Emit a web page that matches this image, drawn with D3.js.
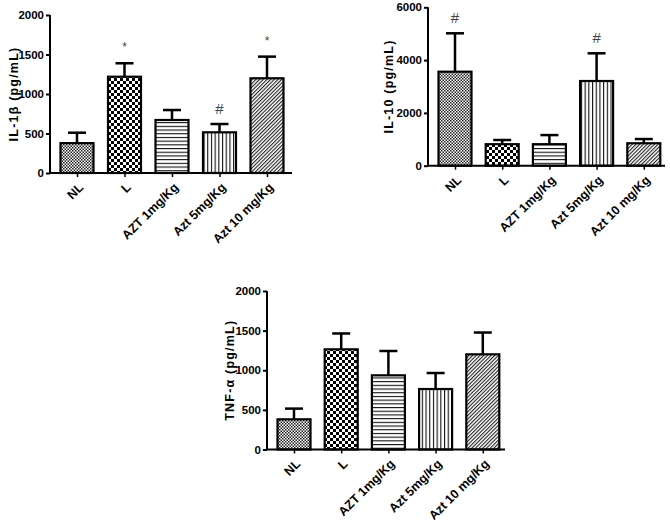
<!DOCTYPE html>
<html><head><meta charset="utf-8">
<script src="https://cdn.jsdelivr.net/npm/d3@7"></script>
<style>body{margin:0;background:#fff}svg{display:block}</style>
</head><body>
<svg id="c" width="670" height="523"></svg>
<script>
const categories = ["NL","L","AZT 1mg/Kg","Azt 5mg/Kg","Azt 10 mg/Kg"];
const il1bMean = [378, 1219, 671, 515, 1199];
const il1bErr  = [132, 170, 126, 105, 274];
const il1bMarks = ["", "*", "", "#", "*"];
const il10Mean = [3561, 815, 815, 3208, 850];
const il10Err  = [1454, 158, 345, 1049, 160];
const il10Marks = ["#", "", "", "#", ""];
const tnfMean = [381, 1264, 936, 763, 1201];
const tnfErr  = [135, 200, 307, 202, 275];
const tnfMarks = ["", "", "", "", ""];
const il1bTicks = [0,500,1000,1500,2000];
const il10Ticks = [0,2000,4000,6000];
const tnfTicks = [0,500,1000,1500,2000];
const patternIds = ["pFine","pCheck","pHoriz","pVert","pDiag"];

const svg = d3.select("#c");
const defs = svg.append("defs");
let p = defs.append("pattern").attr("id","pFine").attr("patternUnits","userSpaceOnUse").attr("width",3).attr("height",3);
p.append("rect").attr("width",3).attr("height",3).attr("fill","#fff");
p.append("rect").attr("width",1.5).attr("height",1.5).attr("fill","#222");
p.append("rect").attr("x",1.5).attr("y",1.5).attr("width",1.5).attr("height",1.5).attr("fill","#222");
p = defs.append("pattern").attr("id","pCheck").attr("patternUnits","userSpaceOnUse").attr("width",6).attr("height",6);
p.append("rect").attr("width",6).attr("height",6).attr("fill","#fff");
p.append("rect").attr("width",3).attr("height",3).attr("fill","#000");
p.append("rect").attr("x",3).attr("y",3).attr("width",3).attr("height",3).attr("fill","#000");
p = defs.append("pattern").attr("id","pHoriz").attr("patternUnits","userSpaceOnUse").attr("width",4).attr("height",3.7);
p.append("rect").attr("width",4).attr("height",3.7).attr("fill","#fff");
p.append("rect").attr("y",0).attr("width",4).attr("height",1.1).attr("fill","#111");
p = defs.append("pattern").attr("id","pVert").attr("patternUnits","userSpaceOnUse").attr("width",3.7).attr("height",4);
p.append("rect").attr("width",3.7).attr("height",4).attr("fill","#fff");
p.append("rect").attr("x",0).attr("width",1.1).attr("height",4).attr("fill","#111");
p = defs.append("pattern").attr("id","pDiag").attr("patternUnits","userSpaceOnUse").attr("width",2.6).attr("height",2.6).attr("patternTransform","rotate(45)");
p.append("rect").attr("width",2.6).attr("height",2.6).attr("fill","#fff");
p.append("rect").attr("x",0).attr("width",1.1).attr("height",2.6).attr("fill","#222");

const narrow = "'Liberation Sans Narrow','Arial Narrow','Liberation Sans',Arial,sans-serif";
const wide = "'Liberation Sans',Arial,sans-serif";

function panel(o){
  const g = svg.append("g");
  const y = d3.scaleLinear().domain([0,o.ymax]).range([o.yBot,o.yTop]);
  const x = d3.scalePoint().domain(categories).range([o.x0+27, o.x0+27+4*o.step]);
  const bw = 33;
  g.selectAll("rect.bar").data(o.mean).enter().append("rect")
    .attr("x",(d,i)=>x(categories[i])-bw/2).attr("width",bw)
    .attr("y",d=>y(d)).attr("height",d=>o.yBot-y(d))
    .attr("fill",(d,i)=>"url(#"+patternIds[i]+")")
    .attr("stroke","#000").attr("stroke-width",2.2);
  o.mean.forEach((m,i)=>{
    const cx = x(categories[i]);
    g.append("line").attr("x1",cx).attr("x2",cx).attr("y1",y(m)).attr("y2",y(m+o.err[i])).attr("stroke","#000").attr("stroke-width",2.5);
    g.append("line").attr("x1",cx-9).attr("x2",cx+9).attr("y1",y(m+o.err[i])).attr("y2",y(m+o.err[i])).attr("stroke","#000").attr("stroke-width",2.5);
    if(o.marks[i]){
      const isStar = o.marks[i]==="*";
      g.append("text").attr("x",cx).attr("y",y(m+o.err[i]) - (isStar?12:10))
        .attr("text-anchor","middle").attr("font-family",wide)
        .attr("font-size", isStar?12:15).attr("fill","#444").text(o.marks[i]);
    }
  });
  const ya = d3.axisLeft(y).tickValues(o.ticks).tickSize(4).tickPadding(2).tickFormat(d3.format("d"));
  const yg = g.append("g").attr("transform",`translate(${o.x0},0)`).call(ya);
  yg.select(".domain").attr("stroke-width",2).attr("d",`M0,${o.yTop}V${o.yBot}`);
  yg.selectAll(".tick line").attr("stroke-width",2);
  yg.selectAll(".tick text").attr("font-family",narrow).attr("font-weight","bold").attr("font-size",11.5).attr("fill","#000");
  const xa = d3.axisBottom(x).tickSize(4).tickFormat("");
  const xg = g.append("g").attr("transform",`translate(0,${o.yBot})`).call(xa);
  xg.select(".domain").attr("stroke-width",2).attr("d",`M${o.x0},0H${o.x1}`);
  xg.selectAll(".tick line").attr("stroke-width",1.5);
  categories.forEach((c,i)=>{
    const cx = x(c)+4, cy = o.yBot+12;
    g.append("text").attr("transform",`translate(${cx},${cy}) rotate(-45)`)
      .attr("text-anchor","end").attr("dy","0.35em")
      .attr("font-family",wide).attr("font-weight","bold").attr("font-size",12.5).text(c);
  });
  g.append("text").attr("transform",`translate(${o.labelX},${(o.yTop+o.yBot)/2}) rotate(-90)`)
    .attr("text-anchor","middle").attr("font-family",wide).attr("font-weight","bold")
    .attr("font-size",12.5).attr("letter-spacing",1.2).text(o.label);
}

panel({x0:50, x1:292, yTop:15, yBot:173, step:47.5, ymax:2000, ticks:il1bTicks, mean:il1bMean, err:il1bErr, marks:il1bMarks, label:"IL-1β (pg/mL)", labelX:18});
panel({x0:428, x1:665, yTop:7.3, yBot:165.7, step:47.2, ymax:6000, ticks:il10Ticks, mean:il10Mean, err:il10Err, marks:il10Marks, label:"IL-10 (pg/mL)", labelX:393});
panel({x0:267, x1:505, yTop:291, yBot:449.5, step:47.2, ymax:2000, ticks:tnfTicks, mean:tnfMean, err:tnfErr, marks:tnfMarks, label:"TNF-α (pg/mL)", labelX:234});
</script>
</body></html>
